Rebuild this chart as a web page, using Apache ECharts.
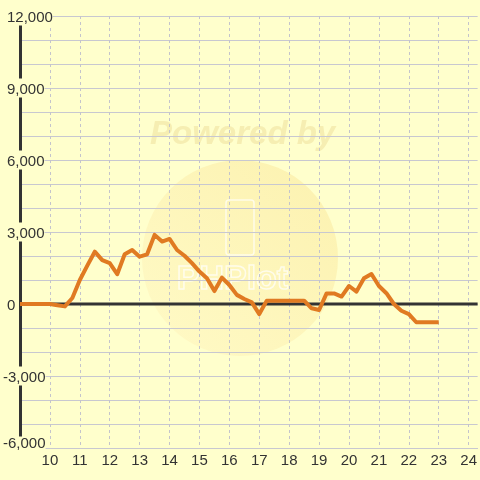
<!DOCTYPE html>
<html>
<head>
<meta charset="utf-8">
<script src="https://cdn.jsdelivr.net/npm/echarts@6/dist/echarts.min.js"></script>
<style>html,body{margin:0;padding:0;background:#ffffcc;}#c{width:480px;height:480px;}</style>
</head>
<body>
<div id="c"></div>
<script>
// Hours (decimal) of each sample, 15-minute steps
var hours = [9, 9.25, 9.5, 9.75, 10, 10.25, 10.5, 10.75, 11, 11.25, 11.5, 11.75,
  12, 12.25, 12.5, 12.75, 13, 13.25, 13.5, 13.75, 14, 14.25, 14.5, 14.75,
  15, 15.25, 15.5, 15.75, 16, 16.25, 16.5, 16.75, 17, 17.25, 17.5, 17.75,
  18, 18.25, 18.5, 18.75, 19, 19.25, 19.5, 19.75, 20, 20.25, 20.5, 20.75,
  21, 21.25, 21.5, 21.75, 22, 22.25, 22.5, 22.75, 23];
var values = [0, 0, 0, 0, 0, -50, -100, 250, 1000, 1600, 2180, 1830,
  1700, 1240, 2070, 2250, 1970, 2070, 2880, 2600, 2710, 2250, 2010, 1700,
  1350, 1070, 540, 1100, 790, 380, 210, 70, -420, 140, 140, 140,
  140, 140, 140, -180, -250, 440, 440, 310, 750, 520, 1070, 1250,
  750, 450, 0, -280, -420, -760, -760, -760, -760];
var xTickLabels = ['10','11','12','13','14','15','16','17','18','19','20','21','22','23','24'];
var zeroLine = [[9, 0], [24.3, 0]];

function fmt(v) {
  var s = String(Math.abs(v)).replace(/\B(?=(\d{3})+(?!\d))/g, ',');
  return (v < 0 ? '-' : '') + s;
}

var FONT = '"Liberation Sans", Arial, sans-serif';
var chart = echarts.init(document.getElementById('c'), null, {renderer: 'canvas'});
var option = {
  backgroundColor: '#ffffcc',
  animation: false,
  graphic: [
    {
      type: 'circle', z: -10, silent: true,
      shape: {cx: 240, cy: 258, r: 98},
      style: {
        fill: new echarts.graphic.LinearGradient(1, 0, 0, 1, [
          {offset: 0, color: '#fbeda6'},
          {offset: 1, color: '#fff8c4'}
        ]),
        opacity: 0.75
      }
    },
    {
      type: 'text', z: -9, silent: true,
      left: 150, top: 118,
      style: {
        text: 'Powered by',
        font: 'italic bold 33px ' + FONT,
        fill: '#f6eeb2'
      }
    },
    {
      type: 'rect', z: -9, silent: true,
      shape: {x: 226, y: 200, width: 28, height: 55, r: 3},
      style: {fill: 'none', stroke: 'rgba(255,255,255,0.7)', lineWidth: 1.5}
    },
    {
      type: 'text', z: -9, silent: true,
      left: 176, top: 262,
      style: {
        text: 'PHPlot',
        font: 'bold 34px ' + FONT,
        fill: 'rgba(255,255,255,0)',
        stroke: 'rgba(255,255,255,0.7)',
        lineWidth: 1.5
      }
    }
  ],
  grid: {left: 20, right: 0, top: 16, bottom: 32, containLabel: false},
  xAxis: {
    type: 'value',
    min: 9, max: 24.3, interval: 1,
    axisLine: {show: true, onZero: false, lineStyle: {color: '#c8c8d0', width: 1}},
    axisTick: {show: false},
    axisLabel: {
      margin: 5,
      color: '#333333',
      fontSize: 15,
      fontFamily: FONT,
      showMaxLabel: false,
      formatter: function (v) {
        var s = String(Math.round(v));
        return (Math.abs(v - Math.round(v)) < 1e-6 && xTickLabels.indexOf(s) >= 0) ? s : '';
      }
    },
    splitLine: {show: true, showMaxLine: false, lineStyle: {color: '#c4c4cc', width: 1, type: [3, 3]}}
  },
  yAxis: {
    type: 'value',
    min: -6000, max: 12000, interval: 3000,
    axisLine: {show: true, lineStyle: {color: '#333333', width: 3}},
    axisTick: {show: false},
    minorTick: {show: false, splitNumber: 3},
    minorSplitLine: {show: true, lineStyle: {color: '#c8c8d0', width: 1}},
    splitLine: {show: true, lineStyle: {color: '#c8c8d0', width: 1}},
    axisLabel: {
      align: 'left',
      margin: 17,
      color: '#333333',
      fontSize: 15,
      fontFamily: FONT,
      backgroundColor: '#ffffcc',
      formatter: function (v) {
        var s = fmt(v);
        if (v === -6000) return '{b|' + s + '}';
        if (v < 0) return '{n|' + s + '}';
        return '{p|' + s + '}';
      },
      rich: {
        p: {padding: [4, 0, 0, 4], fontSize: 15, color: '#333333', fontFamily: FONT},
        n: {padding: [4, 0, 0, 0], fontSize: 15, color: '#333333', fontFamily: FONT},
        b: {padding: [0, 0, 8, 0], fontSize: 15, color: '#333333', fontFamily: FONT}
      }
    }
  },
  series: [
    {
      type: 'line', z: 1, silent: true,
      data: zeroLine,
      symbol: 'none',
      lineStyle: {color: '#333333', width: 3}
    },
    {
      type: 'line', z: 3,
      data: hours.map(function (h, i) { return [h, values[i]]; }),
      symbol: 'none',
      lineStyle: {color: '#e07a22', width: 4, join: 'round'}
    }
  ]
};
chart.setOption(option);
</script>
</body>
</html>
